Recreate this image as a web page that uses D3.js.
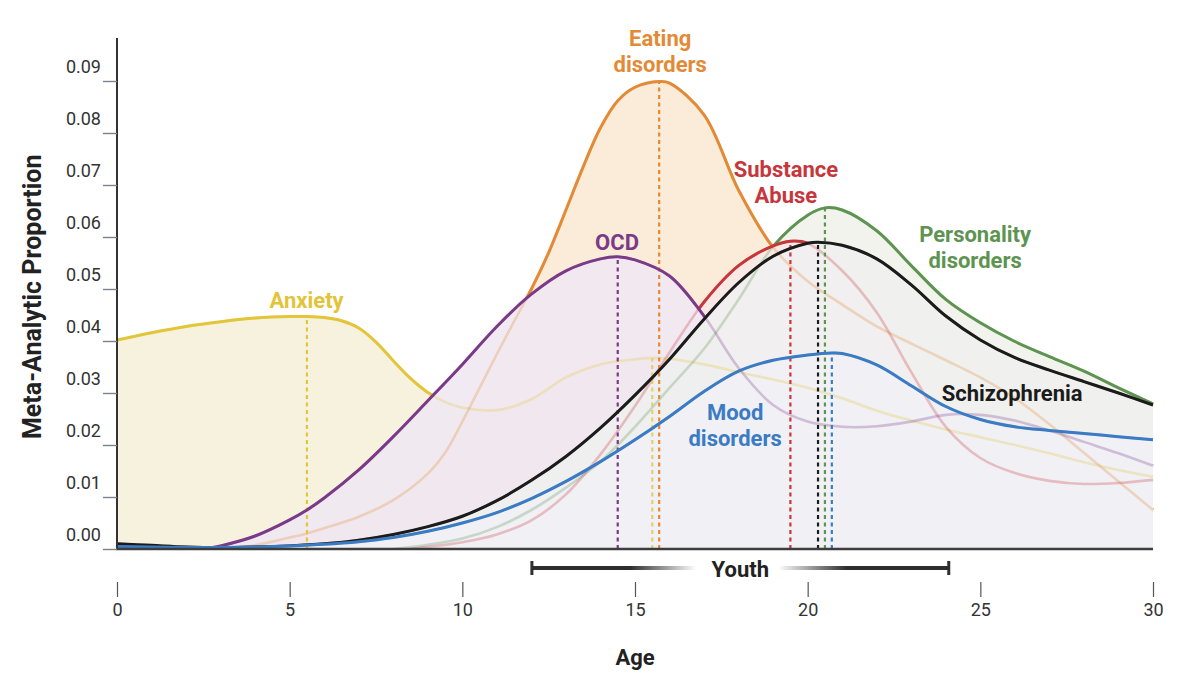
<!DOCTYPE html>
<html><head><meta charset="utf-8">
<script src="https://cdn.jsdelivr.net/npm/d3@7"></script>
<style>
html,body{margin:0;padding:0;background:#fff;}
svg{display:block;font-family:Roboto,"Noto Sans",sans-serif;}
</style>
</head><body>
<svg id="chart" width="1200" height="687"></svg>
<script>
// ---- data: [age, meta-analytic proportion] ----
const anxiety = [[0,0.0402],[1,0.0416],[2,0.0428],[3,0.0437],[4,0.0444],[5,0.0447],[5.5,0.0447],[6,0.0445],[6.5,0.0439],[7,0.0425],[7.5,0.0398],[8,0.0362],[8.5,0.0328],[9,0.0301],[9.5,0.0283],[10,0.0272],[11,0.0267],[12,0.0288],[13,0.033],[14,0.0355],[15,0.0365],[15.5,0.0367],[16,0.0366],[17,0.0355],[18,0.034],[19,0.0326],[20,0.031],[21,0.029],[22,0.0266],[23,0.0247],[24,0.023],[25,0.0215],[26,0.02],[27,0.0184],[28,0.0167],[29,0.0152],[30,0.0139]];
const eating = [[3,0],[4,0.0007],[5,0.0022],[5.5,0.003],[6,0.004],[7,0.0062],[8,0.0094],[9,0.0145],[9.5,0.0185],[10,0.0245],[10.5,0.031],[11,0.0375],[11.5,0.0438],[12,0.05],[12.5,0.057],[13,0.0652],[13.5,0.0735],[14,0.081],[14.5,0.0862],[15,0.0888],[15.7,0.0899],[16,0.0896],[17,0.0835],[18,0.069],[19,0.058],[20,0.0515],[21,0.047],[22,0.0428],[23,0.0395],[24,0.0363],[25,0.033],[26,0.029],[27,0.024],[28,0.0185],[29,0.013],[30,0.0075]];
const ocd = [[2.5,0],[3,0.0006],[4,0.0025],[5,0.0056],[5.5,0.0075],[6,0.0098],[7,0.0152],[8,0.0216],[9,0.0285],[10,0.0355],[11,0.0428],[12,0.049],[13,0.0535],[14,0.0558],[14.5,0.0562],[15,0.0556],[16,0.0525],[17,0.0448],[18,0.0348],[19,0.0277],[20,0.0245],[21,0.0235],[22,0.0236],[23,0.0245],[24,0.0258],[25,0.0258],[26,0.0247],[27,0.0228],[28,0.0206],[29,0.0184],[30,0.016]];
const substance = [[8.5,0],[9,0.0004],[10,0.0013],[11,0.0028],[12,0.0055],[13,0.0105],[14,0.0182],[15,0.0275],[16,0.0378],[17,0.0475],[18,0.0545],[19,0.0583],[19.5,0.0592],[20,0.0588],[21,0.0535],[22,0.0455],[23,0.034],[24,0.0235],[25,0.0175],[26,0.0146],[27,0.0131],[28,0.0125],[29,0.0127],[30,0.0133]];
const personality = [[8,0],[9,0.0008],[10,0.002],[11,0.0042],[12,0.0075],[13,0.0118],[14,0.0168],[15,0.0235],[16,0.031],[17,0.0385],[18,0.048],[19,0.0582],[20,0.0642],[20.5,0.0656],[21,0.0652],[22,0.0612],[23,0.0545],[24,0.048],[25,0.0435],[26,0.0399],[27,0.037],[28,0.0342],[29,0.031],[30,0.0279]];
const schizophrenia = [[0,0.001],[1,0.0007],[2,0.0004],[3,0.0003],[4,0.0004],[5,0.0006],[6,0.001],[7,0.0017],[8,0.0028],[9,0.0043],[10,0.0063],[11,0.0093],[12,0.0132],[13,0.0178],[14,0.0233],[15,0.0296],[16,0.0365],[17,0.0442],[18,0.0512],[19,0.0563],[20,0.0588],[20.3,0.059],[21,0.0584],[22,0.0558],[23,0.0508],[24,0.0448],[25,0.0402],[26,0.0368],[27,0.0344],[28,0.0322],[29,0.03],[30,0.0277]];
const mood = [[0,0.0005],[1,0.0004],[2,0.0003],[3,0.0003],[4,0.0004],[5,0.0006],[6,0.0009],[7,0.0014],[8,0.0022],[9,0.0034],[10,0.005],[11,0.007],[12,0.0097],[13,0.013],[14,0.0168],[15,0.021],[16,0.0255],[17,0.0303],[18,0.0342],[19,0.0363],[20,0.0373],[20.7,0.0377],[21,0.0376],[22,0.0354],[23,0.0314],[24,0.0274],[25,0.0249],[26,0.0235],[27,0.0228],[28,0.0222],[29,0.0216],[30,0.021]];

// peak ages (dotted verticals)
const anxietyPeaks = [5.5, 15.5];
const eatingPeaks = [15.7];
const ocdPeaks = [14.5];
const substancePeaks = [19.5];
const personalityPeaks = [20.5];
const schizophreniaPeaks = [20.3];
const moodPeaks = [20.7];

const xTicks = [0,5,10,15,20,25,30];
const yTicks = [0,0.01,0.02,0.03,0.04,0.05,0.06,0.07,0.08,0.09];
const youthRange = [12, 24.1];

// ---- styling ----
const series = [
  {id:'anx', data:anxiety, peaks:anxietyPeaks, color:'#e3c53a', fill:'#f5f1d9'},
  {id:'eat', data:eating, peaks:eatingPeaks, color:'#e38a36', fill:'#fbead6'},
  {id:'per', data:personality, peaks:personalityPeaks, color:'#5e9451', fill:'#eff2ea'},
  {id:'sub', data:substance, peaks:substancePeaks, color:'#c7363b', fill:'#f7e9e5'},
  {id:'ocd', data:ocd, peaks:ocdPeaks, color:'#7b3a88', fill:'#efe8f2'},
  {id:'sch', data:schizophrenia, peaks:schizophreniaPeaks, color:'#1b1b1b', fill:'#efefef'},
  {id:'moo', data:mood, peaks:moodPeaks, color:'#3a7bc3', fill:'#eff0f5'}
];
const labels = [
  {lines:['Anxiety'], age:5.49, val:0.04635, color:'#e2c43a'},
  {lines:['OCD'], age:14.48, val:0.0575, color:'#7b3a88'},
  {lines:['Eating','disorders'], age:15.73, val:0.0967, color:'#e38a36'},
  {lines:['Substance','Abuse'], age:19.37, val:0.0715, color:'#c7363b'},
  {lines:['Personality','disorders'], age:24.85, val:0.059, color:'#5e9451'},
  {lines:['Mood','disorders'], age:17.9, val:0.0248, color:'#3a7bc3'},
  {lines:['Schizophrenia'], age:25.92, val:0.0285, color:'#1b1b1b'}
];

const W = 1200, H = 687;
const svg = d3.select('#chart');
const x = d3.scaleLinear().domain([0,30]).range([117,1153]);
const y = d3.scaleLinear().domain([0,0.09]).range([549,81]);

const curve = d3.curveCatmullRom.alpha(0.5);
const area = d3.area().x(d=>x(d[0])).y0(y(0)).y1(d=>y(d[1])).curve(curve);
const line = d3.line().x(d=>x(d[0])).y(d=>y(d[1])).curve(curve);

const defs = svg.append('defs');
const clip = defs.append('clipPath').attr('id','plot');
clip.append('rect').attr('x', x(0)).attr('y', 0).attr('width', x(30)-x(0)+2).attr('height', y(0));

// fills
const gA = svg.append('g').attr('clip-path','url(#plot)');
series.forEach(s=>{
  gA.append('path').attr('d', area(s.data)).attr('fill', s.fill).attr('fill-opacity', 0.9);
});

// masks: a line is solid only where no later series' area lies over it
series.forEach((s,i)=>{
  const m = defs.append('mask').attr('id','m-'+s.id).attr('maskUnits','userSpaceOnUse')
    .attr('x',0).attr('y',0).attr('width',W).attr('height',H);
  m.append('rect').attr('x',0).attr('y',0).attr('width',W).attr('height',H).attr('fill','#fff');
  series.slice(i+1).forEach(t=>{
    m.append('path').attr('d', area(t.data)).attr('fill','#000');
  });
});

// faded lines
const gF = svg.append('g').attr('clip-path','url(#plot)');
series.forEach(s=>{
  gF.append('path').attr('d', line(s.data)).attr('fill','none').attr('stroke', s.color)
    .attr('stroke-width', 2.6).attr('stroke-opacity', 0.28);
});

// dotted peak lines
const gD = svg.append('g');
series.forEach(s=>{
  s.peaks.forEach((p,k)=>{
    const pt = s.data.find(d=>d[0]===p);
    gD.append('line').attr('x1', x(p)).attr('x2', x(p)).attr('y1', y(0)).attr('y2', y(pt[1]))
      .attr('stroke', s.color).attr('stroke-width', 2.2).attr('stroke-dasharray','4,3.5')
      .attr('stroke-opacity', k>0 ? 0.75 : 1);
  });
});

// solid lines
const gS = svg.append('g').attr('clip-path','url(#plot)');
series.forEach(s=>{
  gS.append('path').attr('d', line(s.data)).attr('fill','none').attr('stroke', s.color)
    .attr('stroke-width', 3).attr('mask','url(#m-'+s.id+')');
});

// axes
svg.append('line').attr('x1', x(0)).attr('x2', x(0)).attr('y1', 38).attr('y2', y(0)+1)
  .attr('stroke','#333').attr('stroke-width',2);
svg.append('line').attr('x1', x(0)-1).attr('x2', x(30)).attr('y1', y(0)).attr('y2', y(0))
  .attr('stroke','#3d3d3d').attr('stroke-width',2.5);

const yAx = svg.append('g').attr('transform','translate('+x(0)+',0)')
  .call(d3.axisLeft(y).tickValues(yTicks).tickFormat(d3.format('.2f')).tickSize(14).tickPadding(3));
yAx.select('.domain').remove();
yAx.selectAll('.tick line').attr('stroke','#7d8290').attr('stroke-width',1.4);
yAx.selectAll('.tick text').attr('font-family','Roboto').attr('font-size',18).attr('fill','#333')
  .attr('x',-16).attr('dy','-0.45em');

const xAx = svg.append('g').attr('transform','translate(0,582)')
  .call(d3.axisBottom(x).tickValues(xTicks).tickSize(15).tickPadding(6));
xAx.select('.domain').remove();
xAx.selectAll('.tick line').attr('stroke','#555').attr('stroke-width',1.2);
xAx.selectAll('.tick text').attr('font-family','Roboto').attr('font-size',18).attr('fill','#333');

svg.append('text').attr('x', x(15)).attr('y', 665).attr('text-anchor','middle')
  .attr('font-weight',700).attr('font-size',22).attr('fill','#222').text('Age');
svg.append('text').attr('transform','translate(41,'+y(0.0485)+') rotate(-90)').attr('text-anchor','middle')
  .attr('font-weight',700).attr('font-size',25).attr('fill','#222').text('Meta-Analytic Proportion');

// youth bracket
const yx0 = x(youthRange[0]), yx1 = x(youthRange[1]), ymid = (yx0+yx1)/2, yy = 568;
const gl = defs.append('linearGradient').attr('id','gl').attr('gradientUnits','userSpaceOnUse')
  .attr('x1', yx0).attr('x2', ymid-44).attr('y1',0).attr('y2',0);
gl.append('stop').attr('offset','0%').attr('stop-color','#2e2e2e').attr('stop-opacity',1);
gl.append('stop').attr('offset','60%').attr('stop-color','#2e2e2e').attr('stop-opacity',1);
gl.append('stop').attr('offset','100%').attr('stop-color','#2e2e2e').attr('stop-opacity',0);
const gr = defs.append('linearGradient').attr('id','gr').attr('gradientUnits','userSpaceOnUse')
  .attr('x1', ymid+38).attr('x2', yx1).attr('y1',0).attr('y2',0);
gr.append('stop').attr('offset','0%').attr('stop-color','#2e2e2e').attr('stop-opacity',0);
gr.append('stop').attr('offset','40%').attr('stop-color','#2e2e2e').attr('stop-opacity',1);
gr.append('stop').attr('offset','100%').attr('stop-color','#2e2e2e').attr('stop-opacity',1);
svg.append('rect').attr('x', yx0).attr('y', yy-2).attr('width', ymid-44-yx0).attr('height',4).attr('fill','url(#gl)');
svg.append('rect').attr('x', ymid+38).attr('y', yy-2).attr('width', yx1-ymid-38).attr('height',4).attr('fill','url(#gr)');
svg.append('rect').attr('x', yx0-1).attr('y', yy-7).attr('width',3).attr('height',14).attr('fill','#2e2e2e');
svg.append('rect').attr('x', yx1-2).attr('y', yy-7).attr('width',3).attr('height',14).attr('fill','#2e2e2e');
svg.append('text').attr('x', ymid).attr('y', yy+9).attr('text-anchor','middle')
  .attr('font-weight',700).attr('font-size',22).attr('fill','#222').text('Youth');

// series labels
labels.forEach(l=>{
  const t = svg.append('text').attr('text-anchor','middle').attr('font-weight',700)
    .attr('font-size',22).attr('fill', l.color);
  l.lines.forEach((ln,i)=>{
    t.append('tspan').attr('x', x(l.age)).attr('y', y(l.val)+i*26).text(ln);
  });
});
</script>
</body></html>
